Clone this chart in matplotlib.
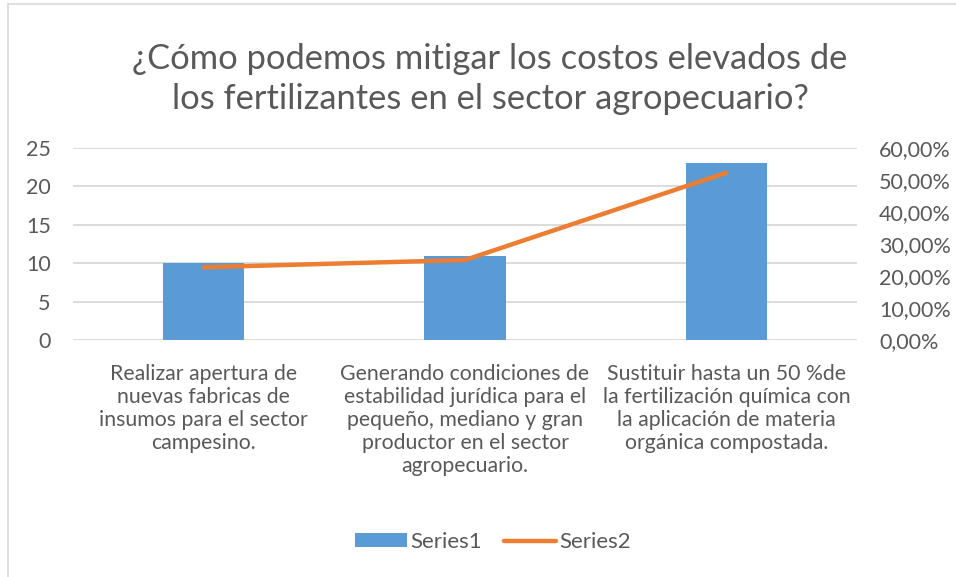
import matplotlib
matplotlib.use("Agg")
import matplotlib.pyplot as plt
from matplotlib.patches import Rectangle, Patch
from matplotlib.lines import Line2D
from matplotlib.ticker import FuncFormatter

plt.rcParams['font.family'] = ['Lato', 'DejaVu Sans']

title = "¿Cómo podemos mitigar los costos elevados de\nlos fertilizantes en el sector agropecuario?"
categories = [
    "Realizar apertura de\nnuevas fabricas de\ninsumos para el sector\ncampesino.",
    "Generando condiciones de\nestabilidad jurídica para el\npequeño, mediano y gran\nproductor en el sector\nagropecuario.",
    "Sustituir hasta un 50 %de\nla fertilización química con\nla aplicación de materia\norgánica compostada.",
]
series1 = [10, 11, 23]
series2 = [0.2273, 0.25, 0.5227]
left_ticks = [0, 5, 10, 15, 20, 25]
right_ticks = [0, 0.1, 0.2, 0.3, 0.4, 0.5, 0.6]

W, H = 956, 577
fig = plt.figure(figsize=(W / 100, H / 100), dpi=100)
TXT = '#595959'
GRID = '#d9d9d9'

# frame border
fig.patches.append(Rectangle((8 / W, -0.01), 1.02, 1 - 4 / H + 0.01, transform=fig.transFigure,
                             fill=False, edgecolor='#d9d9d9', linewidth=1.2))

ax = fig.add_axes([73 / W, 1 - 340 / H, (857 - 73) / W, (340 - 148) / H])
x = list(range(len(categories)))
ax.bar(x, series1, width=0.31, color='#5b9bd5', zorder=3)
ax.set_xlim(-0.5, 2.5)
ax.set_ylim(0, 25)
ax.set_yticks(left_ticks)
ax.yaxis.grid(True, color=GRID, linewidth=1.3, zorder=0)
for s in ax.spines.values():
    s.set_visible(False)
ax.tick_params(axis='y', length=0, labelsize=15.5, labelcolor=TXT, pad=16)
ax.set_xticks(x)
ax.set_xticklabels(categories, fontsize=15.3, color=TXT, linespacing=1.2)
ax.tick_params(axis='x', length=0, pad=17)

ax2 = ax.twinx()
ax2.plot(x, series2, color='#ed7d31', linewidth=3.2, solid_capstyle='round', zorder=4)
ax2.set_ylim(0, 0.6)
ax2.set_yticks(right_ticks)
ax2.yaxis.set_major_formatter(FuncFormatter(lambda v, p: f"{v*100:.2f}%".replace('.', ',')))
ax2.tick_params(axis='y', length=0, labelsize=15.5, labelcolor=TXT, pad=16)
for s in ax2.spines.values():
    s.set_visible(False)

fig.text(490 / W, 1 - 79 / H, title, ha='center', va='center', fontsize=24.8, color=TXT,
         linespacing=1.28)

handles = [Patch(facecolor='#5b9bd5', edgecolor='none'),
           Line2D([0], [0], color='#ed7d31', linewidth=3.2, solid_capstyle='round')]
fig.legend(handles, ['Series1', 'Series2'], loc='center', bbox_to_anchor=(493 / W, 1 - 542 / H),
           ncol=2, frameon=False, fontsize=16, labelcolor=TXT, handlelength=2.35,
           handletextpad=0.15, columnspacing=1.0, handleheight=0.55)

fig.savefig('out.png', dpi=100)
